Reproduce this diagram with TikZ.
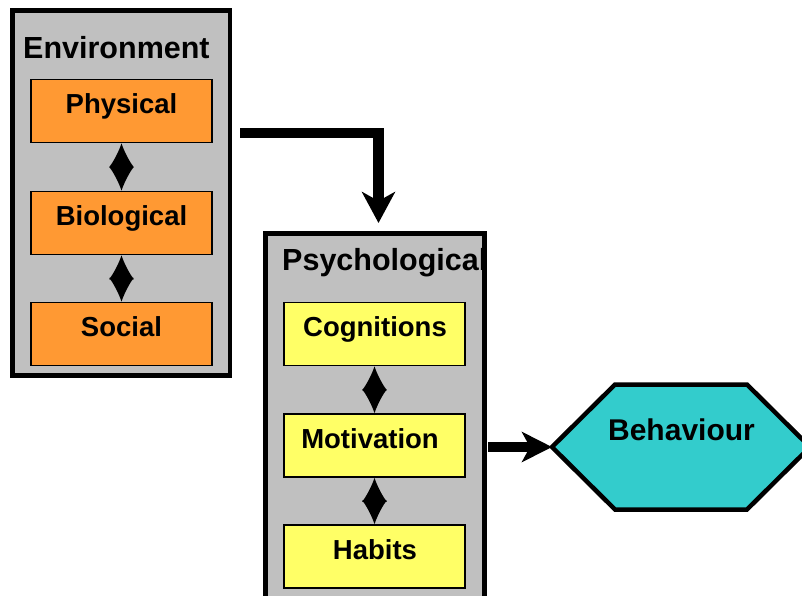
\documentclass[tikz,border=0pt]{standalone}
\usepackage{fontspec}
\setmainfont{Liberation Sans}
\usetikzlibrary{arrows.meta}
\definecolor{panelgray}{HTML}{C0C0C0}
\definecolor{orangebox}{HTML}{FF9933}
\definecolor{yellowbox}{HTML}{FFFF66}
\definecolor{tealhex}{HTML}{33CCCC}
\tikzset{
  panel/.style={fill=panelgray, rectangle, inner sep=0pt, outer sep=0pt},
  panelborder/.style={draw=black, line width=4.5pt},
  itembox/.style={draw=black, line width=1.5pt, rectangle, minimum width=181pt, minimum height=63pt, inner sep=0pt},
  envitem/.style={itembox, fill=orangebox},
  psyitem/.style={itembox, fill=yellowbox},
  itemtext/.style={anchor=base, inner sep=0pt, font=\bfseries\fontsize{27.5}{30}\selectfont},
  titletext/.style={anchor=base west, inner sep=0pt, font=\bfseries\fontsize{30.5}{34}\selectfont},
  dbl/.style={line width=2pt, {Latex[length=24pt,width=25pt]}-{Latex[length=24pt,width=25pt]}},
  bigarrow/.style={line width=10.5pt, -{Stealth[length=31pt,width=33pt,inset=9pt]}}
}
\begin{document}
\begin{tikzpicture}[x=1pt,y=-1pt]
\useasboundingbox (0,0) rectangle (802,595);
\clip (0,0) rectangle (802,595);
% panels
\node[panel, minimum width=217.5pt, minimum height=365pt] (env) at (121.25,193) {};
\node[panel, minimum width=219pt, minimum height=386.5pt] (psych) at (375,426.75) {};
\node[titletext] (envtitle) at (23,58.5) {Environment};
\node[titletext] (psytitle) at (282,270.5) {Psychological};
\draw[panelborder] (env.north west) rectangle (env.south east);
\draw[panelborder] (psych.north west) rectangle (psych.south east);
% environment items
\node[envitem] (phys) at (121.5,111) {};
\node[envitem] (bio) at (121.5,223) {};
\node[envitem] (soc) at (121.5,334) {};
\node[itemtext] (physt) at (121.5,113.5) {Physical};
\node[itemtext] (biot) at (121.5,225.5) {Biological};
\node[itemtext] (soct) at (121.5,336.5) {Social};
\draw[dbl] (phys.south) -- (bio.north);
\draw[dbl] (bio.south) -- (soc.north);
% psychological items
\node[psyitem] (cog) at (374.5,334) {};
\node[psyitem] (mot) at (374.5,445.5) {};
\node[psyitem] (hab) at (374.5,556.5) {};
\node[itemtext] (cogt) at (375,336.5) {Cognitions};
\node[itemtext] (mott) at (370,448.5) {Motivation};
\node[itemtext] (habt) at (375,559.5) {Habits};
\draw[dbl] (cog.south) -- (mot.north);
\draw[dbl] (mot.south) -- (hab.north);
% behaviour hexagon
\coordinate (behL) at (552,447);
\draw[line width=4.5pt, fill=tealhex] (behL) -- (615,384.5) -- (747,384.5) -- (810,447) -- (747,509.5) -- (615,509.5) -- cycle;
\node[anchor=base, inner sep=0pt, font=\bfseries\fontsize{30}{33}\selectfont] (beh) at (681.5,440.5) {Behaviour};
% main arrows
\coordinate (a1) at (240,133);
\draw[bigarrow] (a1) -| ([xshift=3.5pt,yshift=10.5pt]psych.north);
\coordinate (a2) at (488,447);
\draw[bigarrow, -{Stealth[length=30pt,width=30pt,inset=8pt]}] (a2) -- (behL);
\end{tikzpicture}
\end{document}
